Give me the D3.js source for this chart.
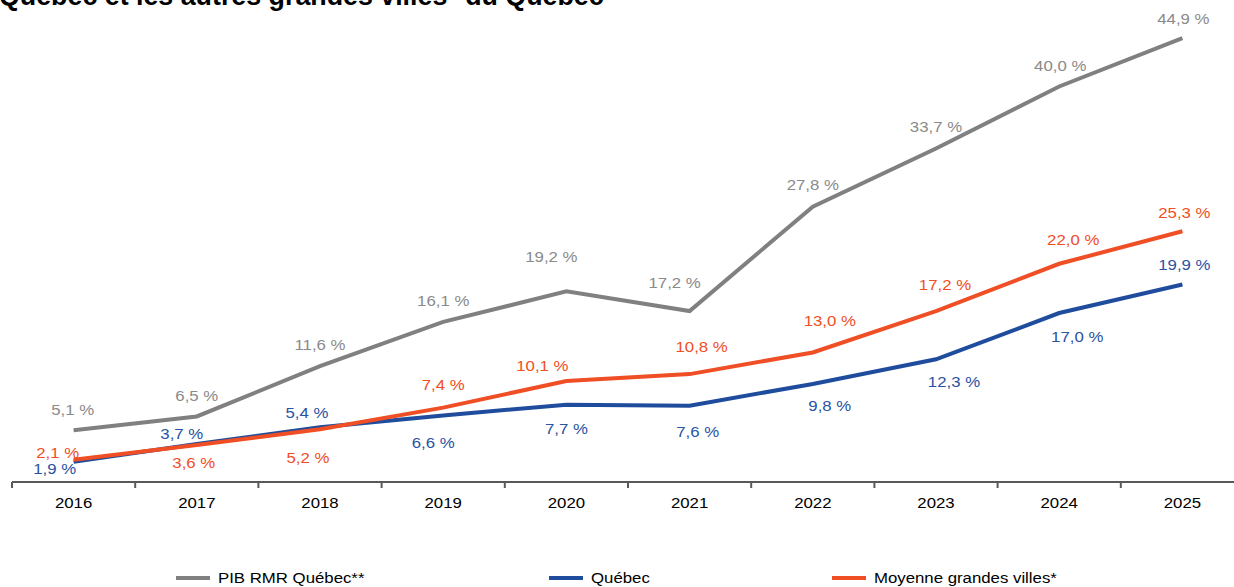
<!DOCTYPE html>
<html>
<head>
<meta charset="utf-8">
<script src="https://cdn.jsdelivr.net/npm/d3@7"></script>
<style>
  body { margin: 0; background: #fff; overflow: hidden; }
  text { font-family: "Liberation Sans", Arial, sans-serif; }
</style>
</head>
<body>
<div id="chart"></div>
<script>
(function() {

  var width = 1234, height = 587;

  // data
  var years = ["2016", "2017", "2018", "2019", "2020", "2021", "2022", "2023", "2024", "2025"];
  var pibRmr = [5.1, 6.5, 11.6, 16.1, 19.2, 17.2, 27.8, 33.7, 40.0, 44.9];
  var quebec = [1.9, 3.7, 5.4, 6.6, 7.7, 7.6, 9.8, 12.3, 17.0, 19.9];
  var moyenne = [2.1, 3.6, 5.2, 7.4, 10.1, 10.8, 13.0, 17.2, 22.0, 25.3];
  var seriesNames = ["PIB RMR Québec**", "Québec", "Moyenne grandes villes*"];

  // label nudges [dx, dy] from each point (hand placed in the original)
  var nudgeGray = [[-1,-21],[0,-21],[0,-21],[0,-21],[-15,-35],[-15,-28],[0,-22],[0,-22],[1,-21],[1,-19]];
  var nudgeBlue = [[-19,7],[-15,-10],[-13,-15],[-10,27],[0,24],[8,26],[17,22],[18,22],[18,24],[2,-20]];
  var nudgeOrange = [[-16,-7],[-3,18],[-12,28],[0,-23],[-24,-15],[12,-27],[17,-32],[9,-26],[14,-24],[2,-19]];

  var series = [
    { name: seriesNames[0], values: pibRmr, color: "#808080", label: "#8a8a8a", nudge: nudgeGray },
    { name: seriesNames[1], values: quebec, color: "#1f4c9c", label: "#2a52a3", nudge: nudgeBlue },
    { name: seriesNames[2], values: moyenne, color: "#f04e25", label: "#f04e25", nudge: nudgeOrange }
  ];

  // the original text is a bit wider than it is tall
  var stretch = " scale(1.12,1)";

  var svg = d3.select("#chart").append("svg")
    .attr("width", width)
    .attr("height", height);

  // title, cut at the top like the original
  svg.append("text")
    .attr("x", -1)
    .attr("y", 5)
    .attr("font-size", "26.8px")
    .attr("font-weight", "bold")
    .attr("fill", "#000")
    .text("Québec et les autres grandes villes* du Québec");

  var x = d3.scaleBand().domain(years).range([12, 1244]).padding(0);
  var y = d3.scaleLinear().domain([0, 45]).range([480.5, 37.2]);

  // x axis
  var xAxis = svg.append("g")
    .attr("transform", "translate(0,482)");

  xAxis.append("line")
    .attr("x1", 12).attr("x2", 1244)
    .attr("stroke", "#595959").attr("stroke-width", 2);

  xAxis.selectAll(".sep")
    .data(years)
    .enter().append("line")
    .attr("class", "sep")
    .attr("x1", function(d) { return x(d); })
    .attr("x2", function(d) { return x(d); })
    .attr("y1", 0).attr("y2", 6)
    .attr("stroke", "#595959").attr("stroke-width", 2);

  xAxis.selectAll(".tick-label")
    .data(years)
    .enter().append("text")
    .attr("class", "tick-label")
    .attr("transform", function(d) {
      return "translate(" + (x(d) + x.bandwidth() / 2) + ",21)" + stretch;
    })
    .attr("dy", "0.35em")
    .attr("text-anchor", "middle")
    .attr("font-size", "15px")
    .attr("fill", "#000")
    .text(function(d) { return d; });

  var line = d3.line()
    .x(function(d, i) { return x(years[i]) + x.bandwidth() / 2; })
    .y(function(d) { return y(d); });

  svg.selectAll(".serie")
    .data(series)
    .enter().append("path")
    .attr("class", "serie")
    .attr("d", function(s) { return line(s.values); })
    .attr("fill", "none")
    .attr("stroke", function(s) { return s.color; })
    .attr("stroke-width", 4);

  // value labels
  series.forEach(function(s) {
    svg.selectAll(null)
      .data(s.values)
      .enter().append("text")
      .attr("transform", function(d, i) {
        var px = x(years[i]) + x.bandwidth() / 2 + s.nudge[i][0];
        var py = y(d) + s.nudge[i][1];
        return "translate(" + px + "," + py + ")" + stretch;
      })
      .attr("dy", "0.35em")
      .attr("text-anchor", "middle")
      .attr("font-size", "15px")
      .attr("fill", s.label)
      .text(function(d) { return d.toFixed(1).replace(".", ",") + " %"; });
  });

  // legend
  var legendX = [176, 549, 832];
  var legend = svg.selectAll(".legend")
    .data(series)
    .enter().append("g")
    .attr("class", "legend")
    .attr("transform", function(s, i) { return "translate(" + legendX[i] + ",578)"; });

  legend.append("line")
    .attr("x1", 0).attr("x2", 34)
    .attr("stroke", function(s) { return s.color; })
    .attr("stroke-width", 4);

  legend.append("text")
    .attr("transform", "translate(42,0)" + stretch)
    .attr("dy", "0.35em")
    .attr("font-size", "15px")
    .attr("fill", "#000")
    .text(function(s) { return s.name; });

})();
</script>
</body>
</html>
